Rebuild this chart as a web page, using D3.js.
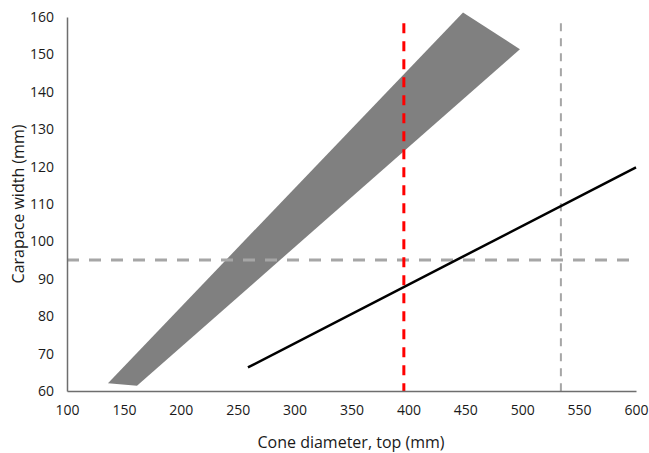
<!DOCTYPE html>
<html>
<head>
<meta charset="utf-8">
<script src="https://cdn.jsdelivr.net/npm/d3@7"></script>
<style>
  html, body { margin: 0; padding: 0; background: #fff; }
  svg { display: block; }
  text { font-family: "Open Sans", "Liberation Sans", sans-serif; fill: #1a1a1a; }
</style>
</head>
<body>
<svg id="chart" width="649" height="453"></svg>
<script>
// Cone diameter (mm) vs carapace width (mm)
const xTicks = [100, 150, 200, 250, 300, 350, 400, 450, 500, 550, 600];
const yTicks = [60, 70, 80, 90, 100, 110, 120, 130, 140, 150, 160];

// Envelope of capture sizes (polygon vertices: x = cone diameter, y = carapace width)
const envelopeX = [136, 448, 498, 161.5];
const envelopeY = [62.1, 161.2, 151.4, 61.4];

// Fitted relationship
const fitX = [259, 600];
const fitY = [66.3, 119.8];

// Reference thresholds
const redCutX = 396;
const grayCutX = 534;
const widthCutY = 95;

const svg = d3.select("#chart");
const x = d3.scaleLinear().domain([100, 600]).range([67, 636]);
const y = d3.scaleLinear().domain([60, 160]).range([391, 17]);

// Envelope
const env = envelopeX.map((v, i) => [x(v), y(envelopeY[i])]);
svg.append("path")
  .attr("d", d3.line()(env) + "Z")
  .attr("fill", "#808080");

// Horizontal threshold
svg.append("line")
  .attr("x1", x(100)).attr("x2", x(600))
  .attr("y1", y(widthCutY)).attr("y2", y(widthCutY))
  .attr("stroke", "#a6a6a6").attr("stroke-width", 3)
  .attr("stroke-dasharray", "12,10");

// Vertical thresholds
svg.append("line")
  .attr("x1", x(redCutX)).attr("x2", x(redCutX))
  .attr("y1", y(158.3)).attr("y2", y(60))
  .attr("stroke", "#ff0000").attr("stroke-width", 3)
  .attr("stroke-dasharray", "10,8");

svg.append("line")
  .attr("x1", x(grayCutX)).attr("x2", x(grayCutX))
  .attr("y1", y(158.3)).attr("y2", y(60))
  .attr("stroke", "#a6a6a6").attr("stroke-width", 2)
  .attr("stroke-dasharray", "8,7");

// Fitted line
svg.append("path")
  .attr("d", d3.line()(fitX.map((v, i) => [x(v), y(fitY[i])])))
  .attr("fill", "none").attr("stroke", "#000").attr("stroke-width", 2.5);

// Axes
const xAxis = svg.append("g")
  .attr("transform", `translate(0,${y(60)})`)
  .call(d3.axisBottom(x).tickValues(xTicks).tickSize(0).tickPadding(14).tickFormat(d3.format("d")));
const yAxis = svg.append("g")
  .attr("transform", `translate(${x(100)},0)`)
  .call(d3.axisLeft(y).tickValues(yTicks).tickSize(0).tickPadding(13).tickFormat(d3.format("d")));

[xAxis, yAxis].forEach(g => {
  g.select(".domain").attr("stroke", "#6e6e6e").attr("stroke-width", 1.5);
  g.selectAll("text").style("font-size", "14px").attr("fill", "#1a1a1a")
    .style("font-family", "'Open Sans', 'Liberation Sans', sans-serif");
});

// Axis titles
svg.append("text")
  .attr("x", 351).attr("y", 448)
  .attr("text-anchor", "middle")
  .style("font-size", "16px")
  .text("Cone diameter, top (mm)");

svg.append("text")
  .attr("transform", "translate(24,204) rotate(-90)")
  .attr("text-anchor", "middle")
  .style("font-size", "16px")
  .text("Carapace width (mm)");
</script>
</body>
</html>
